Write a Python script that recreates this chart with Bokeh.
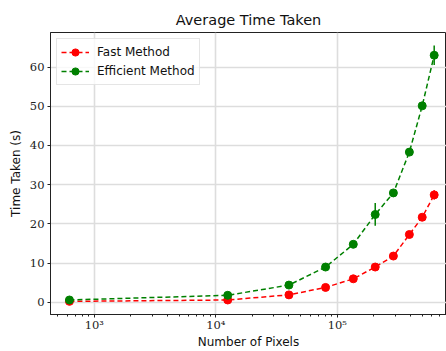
import numpy as np
from bokeh.plotting import figure
from bokeh.models import (Range1d, FixedTicker, ColumnDataSource, Legend, LegendItem)
from bokeh.embed import file_html
from bokeh.resources import INLINE

# ---- data ----
pixels = [625, 12544, 40000, 80089, 135424, 205209, 289444, 391876, 499849, 627264]
fast_time = [0.25, 0.6, 1.9, 3.8, 6.0, 9.0, 11.8, 17.3, 21.7, 27.4]
fast_err = [0.2, 0.2, 0.3, 0.3, 0.4, 0.5, 0.6, 0.7, 0.8, 1.2]
eff_time = [0.6, 1.8, 4.4, 9.0, 14.8, 22.4, 27.9, 38.3, 50.1, 63.0]
eff_err = [0.3, 0.3, 0.4, 0.4, 0.5, 2.9, 0.6, 0.9, 0.9, 2.5]

x_major = [1e3, 1e4, 1e5]
x_major_labels = {1000: "10³", 10000: "10⁴", 100000: "10⁵"}
y_ticks = [0, 10, 20, 30, 40, 50, 60]

p = figure(width=446, height=351, x_axis_type="log",
           output_backend="svg", toolbar_location=None,
           x_range=Range1d(436.5, 792000), y_range=Range1d(-3.1, 68.8),
           min_border_left=50, min_border_right=0, min_border_top=32,
           min_border_bottom=34, title="Average Time Taken")

p.title.text_font = "DejaVu Sans"
p.title.text_font_size = "14.5px"
p.title.text_font_style = "normal"
p.title.align = "center"
p.title.text_color = "#111111"

minor = []
for e in [2, 3, 4, 5]:
    for m in range(2, 10):
        minor.append(m * 10 ** e)
p.xaxis.ticker = FixedTicker(ticks=x_major, minor_ticks=minor)
p.xaxis.major_label_overrides = x_major_labels
p.yaxis.ticker = FixedTicker(ticks=y_ticks)

for ax in [p.xaxis[0], p.yaxis[0]]:
    ax.major_label_text_font = "DejaVu Serif"
    ax.major_label_text_font_size = "11.5px"
    ax.major_label_text_color = "#222222"
    ax.axis_label_text_font = "DejaVu Sans"
    ax.axis_label_text_font_size = "12px"
    ax.axis_label_text_font_style = "normal"
    ax.axis_label_text_color = "#111111"
    ax.major_tick_in = 0
    ax.major_tick_out = 3
    ax.minor_tick_in = 0
    ax.minor_tick_out = 2
    ax.axis_line_color = "#222222"
    ax.major_tick_line_color = "#222222"
    ax.minor_tick_line_color = "#222222"
p.yaxis.minor_tick_line_color = None
p.yaxis.major_label_standoff = 3
p.yaxis.axis_label_standoff = 4
p.xaxis.major_label_standoff = 0
p.xaxis.axis_label_standoff = 0
p.xaxis.axis_label = "Number of Pixels"
p.yaxis.axis_label = "Time Taken (s)"

p.outline_line_color = "#222222"
p.outline_line_width = 1
p.xgrid.grid_line_color = "#dddddd"
p.ygrid.grid_line_color = "#dddddd"
p.xgrid.grid_line_width = 1.6
p.ygrid.grid_line_width = 1.6

def series(y, err, color):
    y = np.array(y)
    err = np.array(err)
    src = ColumnDataSource(dict(x=pixels, y=y, lo=y - err, hi=y + err))
    ln = p.line("x", "y", source=src, line_color=color, line_width=1.5, line_dash="5 3")
    p.segment(x0="x", y0="lo", x1="x", y1="hi", source=src, line_color=color, line_width=1.5)
    sc = p.scatter("x", "y", source=src, size=8, fill_color=color, line_color=color)
    return [ln, sc]

fast_r = series(fast_time, fast_err, "red")
eff_r = series(eff_time, eff_err, "green")

legend = Legend(items=[LegendItem(label="Fast Method", renderers=fast_r),
                       LegendItem(label="Efficient Method", renderers=eff_r)],
                location="top_left")
legend.label_text_font = "DejaVu Sans"
legend.label_text_font_size = "12px"
legend.label_text_color = "#111111"
legend.border_line_color = "#cccccc"
legend.background_fill_alpha = 0.8
legend.margin = 6
legend.padding = 4
legend.spacing = 1
legend.glyph_width = 28
legend.glyph_height = 18
legend.label_standoff = 8
legend.label_height = 18
p.add_layout(legend)

open("out.html", "w").write(file_html(p, INLINE))
